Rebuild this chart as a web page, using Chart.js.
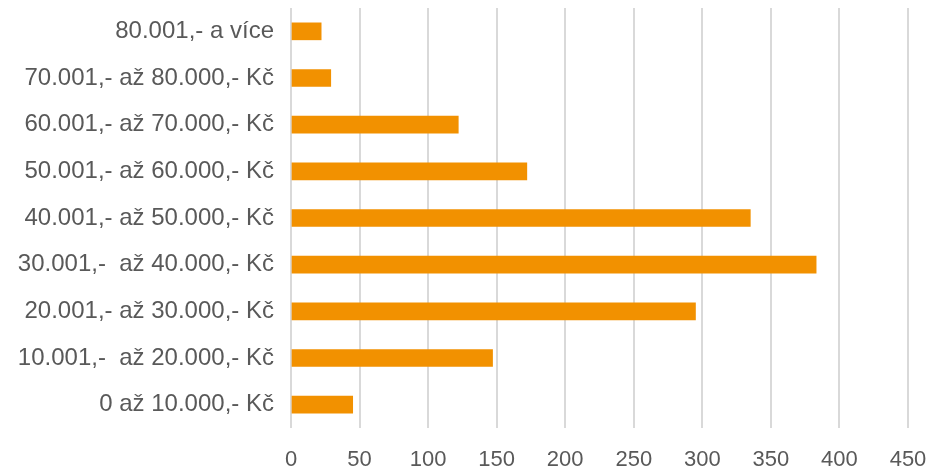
<!DOCTYPE html>
<html>
<head>
<meta charset="utf-8">
<script src="https://cdn.jsdelivr.net/npm/chart.js@4/dist/chart.umd.min.js"></script>
<style>
  body { margin: 0; background: #fff; }
  #wrap { width: 931px; height: 469px; position: relative; }
</style>
</head>
<body>
<div id="wrap"><canvas id="salaryChart"></canvas></div>
<script>
  // Categories top to bottom
  const categories = [
    "80.001,- a více",
    "70.001,- až 80.000,- Kč",
    "60.001,- až 70.000,- Kč",
    "50.001,- až 60.000,- Kč",
    "40.001,- až 50.000,- Kč",
    "30.001,-  až 40.000,- Kč",
    "20.001,- až 30.000,- Kč",
    "10.001,-  až 20.000,- Kč",
    "0 až 10.000,- Kč",
  ];
  const counts = [22, 29, 122, 172, 335, 383, 295, 147, 45];

  const xMin = 0;
  const xMax = 450;
  const xStep = 50;

  const textColor = "#595959";
  const gridColor = "#d9d9d9";
  const fontFamily = "'Liberation Sans', Arial, sans-serif";

  new Chart(document.getElementById("salaryChart"), {
    type: "bar",
    data: {
      labels: categories,
      datasets: [
        {
          data: counts,
          backgroundColor: "#f29100",
          borderWidth: 0,
          barThickness: 17,
        },
      ],
    },
    options: {
      indexAxis: "y",
      responsive: true,
      maintainAspectRatio: false,
      animation: false,
      layout: { padding: { top: 8, right: 23, left: 0, bottom: 0 } },
      plugins: {
        legend: { display: false },
        tooltip: { enabled: false },
      },
      scales: {
        x: {
          min: xMin,
          max: xMax,
          ticks: {
            stepSize: xStep,
            color: textColor,
            padding: 19,
            font: { family: fontFamily, size: 22 },
          },
          grid: { color: gridColor, lineWidth: 2, drawTicks: false },
          border: { display: false },
          afterFit: function (scale) {
            scale.height = 41;
            scale.paddingLeft = 0;
            scale.paddingRight = 0;
          },
        },
        y: {
          ticks: {
            color: textColor,
            padding: 17,
            font: { family: fontFamily, size: 24 },
          },
          grid: { display: false, drawTicks: false },
          border: { display: false },
          afterFit: function (scale) {
            scale.width = 291;
            scale.paddingTop = 0;
            scale.paddingBottom = 0;
          },
        },
      },
    },
  });
</script>
</body>
</html>
